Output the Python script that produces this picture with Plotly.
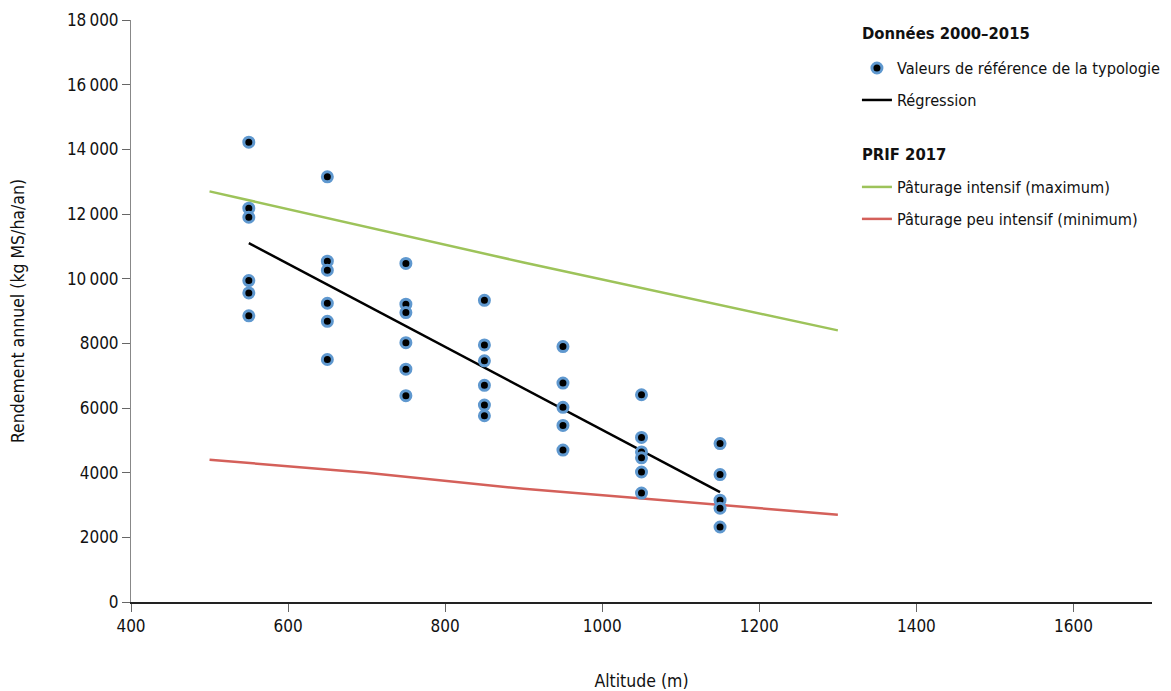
import plotly.graph_objects as go

# Reference values (typology), by altitude class
alt_points = [550]*6 + [650]*6 + [750]*6 + [850]*6 + [950]*5 + [1050]*6 + [1150]*5
yield_points = [14220, 12180, 11900, 9940, 9560, 8850,
                13150, 10540, 10260, 9240, 8680, 7500,
                10470, 9210, 8950, 8020, 7200, 6380,
                9330, 7950, 7460, 6700, 6090, 5760,
                7900, 6770, 6020, 5460, 4700,
                6410, 5090, 4640, 4460, 4020, 3370,
                4900, 3940, 3150, 2900, 2320]

# Regression
reg_alt = [550, 1150]
reg_yield = [11100, 3400]

# PRIF 2017
prif_max_alt = [500, 900, 1300]
prif_max_yield = [12700, 10500, 8400]
prif_min_alt = [500, 700, 900, 1100, 1300]
prif_min_yield = [4400, 4000, 3500, 3100, 2700]

y_ticks = [0, 2000, 4000, 6000, 8000, 10000, 12000, 14000, 16000, 18000]
y_ticktext = ["0", "2000", "4000", "6000", "8000", "10\u2009000", "12\u2009000",
              "14\u2009000", "16\u2009000", "18\u2009000"]
x_ticks = [400, 600, 800, 1000, 1200, 1400, 1600]

FONT = "DejaVu Sans Condensed, Liberation Sans Narrow, Arial Narrow, sans-serif"
FS = 16.2

fig = go.Figure()
fig.add_trace(go.Scatter(
    x=prif_max_alt, y=prif_max_yield, mode="lines",
    line=dict(color="#9dc35a", width=2.5),
    name="Pâturage intensif (maximum)", legendgroup="c", legendrank=3,
    legendgrouptitle=dict(
        text="<br><sup><span style='font-size:16.5px'><b>PRIF 2017</b></span></sup>",
        font=dict(size=20, color="#111")),
))
fig.add_trace(go.Scatter(
    x=prif_min_alt, y=prif_min_yield, mode="lines",
    line=dict(color="#d4605a", width=2.5),
    name="Pâturage peu intensif (minimum)", legendgroup="d", legendrank=4,
))
fig.add_trace(go.Scatter(
    x=reg_alt, y=reg_yield, mode="lines",
    line=dict(color="#000000", width=2.5),
    name="Régression", legendgroup="b", legendrank=2,
))
fig.add_trace(go.Scatter(
    x=alt_points, y=yield_points, mode="markers",
    marker=dict(color="#000000", size=10, line=dict(color="#5f98cf", width=3)),
    name="Valeurs de référence de la typologie", legendgroup="a", legendrank=1,
    legendgrouptitle=dict(
        text="<span style='font-size:16.5px'><b>Données 2000–2015</b></span><br>",
        font=dict(size=10, color="#111")),
))

fig.update_layout(
    width=1171, height=683,
    margin=dict(l=123, r=27, t=12, b=89, autoexpand=False),
    paper_bgcolor="white", plot_bgcolor="white",
    font=dict(family=FONT, size=FS, color="#111"),
    legend=dict(x=0.711, y=0.9966, xanchor="left", yanchor="top",
                traceorder="grouped", tracegroupgap=7.9,
                font=dict(size=FS, color="#111"), bgcolor="rgba(0,0,0,0)"),
    xaxis=dict(range=[400, 1700], tickvals=x_ticks, showgrid=False, zeroline=False,
               automargin=False,
               showline=True, linecolor="#222", linewidth=1.5,
               ticks="outside", ticklen=8, tickcolor="#666",
               tickfont=dict(size=17),
               title=dict(text="Altitude (m)", standoff=44, font=dict(size=17.5))),
    yaxis=dict(range=[0, 18000], tickvals=y_ticks, ticktext=y_ticktext, showgrid=False,
               zeroline=False, automargin=False, showline=True, linecolor="#888", linewidth=1,
               ticks="outside", ticklen=8, tickcolor="#666",
               tickfont=dict(size=17),
               title=dict(text="Rendement annuel (kg MS/ha/an)", standoff=38,
                          font=dict(size=17.5))),
)

fig.write_html("out.html")
